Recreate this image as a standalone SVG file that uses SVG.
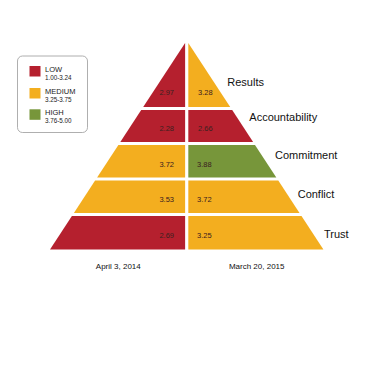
<svg xmlns="http://www.w3.org/2000/svg" width="370" height="370" viewBox="0 0 370 370">
<style>
.low{fill:#B5202E}
.med{fill:#F3AE1F}
.high{fill:#77963A}
.val{font-family:"Liberation Sans",Arial,sans-serif;font-size:7.5px;fill:#3a2020}
.lbl{font-family:"Liberation Sans",Arial,sans-serif;font-size:11px;fill:#111}
.date{font-family:"Liberation Sans",Arial,sans-serif;font-size:8px;fill:#111;text-anchor:middle}
.lg{font-family:"Liberation Sans",Arial,sans-serif;font-size:7.5px;fill:#222}
.lgs{font-family:"Liberation Sans",Arial,sans-serif;font-size:6.3px;fill:#222}
.l{text-anchor:end}
</style>
<rect width="370" height="370" fill="#fff"/>
<g id="legend">
<rect x="17.5" y="56" width="70" height="76.5" rx="5" fill="#fff" stroke="#9a9a9a" stroke-width="0.8"/>
<rect class="low" x="29.5" y="66" width="11" height="10.5"/>
<text class="lg" x="45" y="71.8">LOW</text>
<text class="lgs" x="45" y="80.2">1.00-3.24</text>
<rect class="med" x="29.5" y="88" width="11" height="10.5"/>
<text class="lg" x="45" y="93.5">MEDIUM</text>
<text class="lgs" x="45" y="102.3">3.25-3.75</text>
<rect class="high" x="29.5" y="109.3" width="11" height="10.5"/>
<text class="lg" x="45" y="114.5">HIGH</text>
<text class="lgs" x="45" y="123">3.76-5.00</text>
</g>
<g id="results">
<polygon class="low" points="185.1,43 185.1,107 143.2,107"/>
<polygon class="med" points="188.3,43 188.3,107 230.2,107"/>
<text class="val l" x="174" y="95">2.97</text>
<text class="val" x="198" y="95">3.28</text>
<text class="lbl" x="227.3" y="85.7">Results</text>
</g>
<g id="accountability">
<polygon class="low" points="141.2,110 185.1,110 185.1,142 120.3,142"/>
<polygon class="low" points="188.3,110 232.2,110 253.1,142 188.3,142"/>
<text class="val l" x="174" y="130.5">2.28</text>
<text class="val" x="198" y="130.5">2.66</text>
<text class="lbl" x="249.3" y="121.2">Accountability</text>
</g>
<g id="commitment">
<polygon class="med" points="118.4,145 185.1,145 185.1,177.5 97.1,177.5"/>
<polygon class="high" points="188.3,145 255,145 276.3,177.5 188.3,177.5"/>
<text class="val l" x="174" y="166.7">3.72</text>
<text class="val" x="197" y="166.7">3.88</text>
<text class="lbl" x="275" y="159">Commitment</text>
</g>
<g id="conflict">
<polygon class="med" points="95.1,180.5 185.1,180.5 185.1,213 73.9,213"/>
<polygon class="med" points="188.3,180.5 278.3,180.5 299.5,213 188.3,213"/>
<text class="val l" x="174" y="202">3.53</text>
<text class="val" x="197" y="202">3.72</text>
<text class="lbl" x="297.7" y="198">Conflict</text>
</g>
<g id="trust">
<polygon class="low" points="71.9,216 185.1,216 185.1,249.5 50,249.5"/>
<polygon class="med" points="188.3,216 301.5,216 323.4,249.5 188.3,249.5"/>
<text class="val l" x="174" y="237.7">2.69</text>
<text class="val" x="197" y="237.7">3.25</text>
<text class="lbl" x="324" y="238">Trust</text>
</g>
<g id="dates">
<text class="date" x="118.3" y="268.8">April 3, 2014</text>
<text class="date" x="256.7" y="268.8">March 20, 2015</text>
</g>
</svg>
